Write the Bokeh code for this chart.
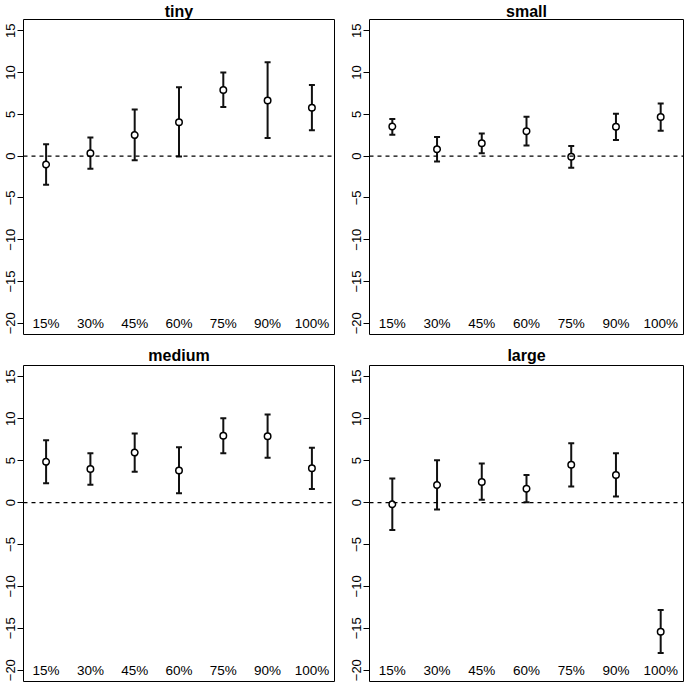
from bokeh.plotting import figure
from bokeh.models import Range1d, FixedTicker, Span, ColumnDataSource
from bokeh.layouts import column, row
from bokeh.embed import file_html
from bokeh.resources import INLINE
from bokeh.core.properties import value

levels = ["15%", "30%", "45%", "60%", "75%", "90%", "100%"]
titles = ["tiny", "small", "medium", "large"]

tiny_mean = [-1.0, 0.35, 2.52, 4.06, 7.91, 6.65, 5.79]
tiny_hi = [1.42, 2.24, 5.59, 8.23, 10.0, 11.22, 8.5]
tiny_lo = [-3.43, -1.5, -0.51, -0.04, 5.87, 2.17, 3.11]

small_mean = [3.54, 0.83, 1.54, 2.99, -0.08, 3.5, 4.69]
small_hi = [4.45, 2.28, 2.72, 4.72, 1.22, 5.08, 6.3]
small_lo = [2.56, -0.63, 0.35, 1.26, -1.38, 1.93, 3.03]

medium_mean = [4.86, 3.99, 5.96, 3.83, 7.97, 7.9, 4.1]
medium_hi = [7.42, 5.88, 8.25, 6.59, 10.07, 10.5, 6.55]
medium_lo = [2.29, 2.13, 3.67, 1.1, 5.88, 5.33, 1.62]

large_mean = [-0.2, 2.09, 2.45, 1.66, 4.5, 3.28, -15.4]
large_hi = [2.88, 5.05, 4.66, 3.28, 7.07, 5.88, -12.83]
large_lo = [-3.28, -0.83, 0.32, 0.04, 1.9, 0.71, -17.96]

y_ticks = [-20, -15, -10, -5, 0, 5, 10, 15]
label_y = -20

series = [
    (tiny_mean, tiny_hi, tiny_lo),
    (small_mean, small_hi, small_lo),
    (medium_mean, medium_hi, medium_lo),
    (large_mean, large_hi, large_lo),
]

FONT = "Liberation Sans"
# (left, right, top, bottom, title standoff)
geom = [
    (23, 8, 19, 8, 0),
    (27, 1, 19, 8, 0),
    (23, 8, 23, 3, 4),
    (27, 1, 23, 3, 4),
]
FIG_W = 342
FIG_H = 342

figs = []
for k in range(4):
    mean, hi, lo = series[k]
    l, r, t, b, so = geom[k]
    xs = list(range(1, len(levels) + 1))
    src = ColumnDataSource(dict(x=xs, m=mean, hi=hi, lo=lo, lab=levels,
                                ly=[label_y] * len(levels)))
    p = figure(width=FIG_W, height=FIG_H, output_backend="svg",
               toolbar_location=None, x_range=Range1d(0.49, 7.51),
               y_range=Range1d(-21.35, 16.35), x_axis_location=None,
               min_border_left=l, min_border_right=r, min_border_top=t,
               min_border_bottom=b, title=titles[k])
    p.title.align = "center"
    p.title.text_font = FONT
    p.title.text_font_style = "bold"
    p.title.text_font_size = "16px"
    p.title.text_color = "black"
    p.title.standoff = so
    p.xgrid.visible = False
    p.ygrid.visible = False
    p.outline_line_color = "black"
    p.outline_line_width = 1
    p.outline_line_alpha = 1
    p.background_fill_color = "white"
    p.border_fill_color = "white"
    ax = p.yaxis[0]
    ax.ticker = FixedTicker(ticks=y_ticks)
    ax.minor_tick_line_color = None
    ax.axis_line_color = None
    ax.major_tick_in = 0
    ax.major_tick_out = 6
    ax.major_tick_line_color = "black"
    ax.major_label_orientation = "vertical"
    ax.major_label_standoff = 2
    ax.major_label_text_font = FONT
    ax.major_label_text_font_size = "13px"
    ax.major_label_text_color = "black"

    p.add_layout(Span(location=0, dimension="width", line_color="black",
                      line_width=1.2, line_dash="4 4"))
    p.segment(x0="x", y0="lo", x1="x", y1="hi", source=src,
              line_color="#111111", line_width=2)
    p.scatter(x="x", y="hi", source=src, marker="dash", size=6,
              line_color="#111111", line_width=2)
    p.scatter(x="x", y="lo", source=src, marker="dash", size=6,
              line_color="#111111", line_width=2)
    p.scatter(x="x", y="m", source=src, marker="circle", size=6.5,
              fill_color="white", line_color="black", line_width=1.5)
    p.text(x="x", y="ly", text="lab", source=src, text_align="center",
           text_baseline="middle", text_font=value(FONT),
           text_font_size="13.5px", text_color="black")
    figs.append(p)

layout = column(row(figs[0], figs[1]), row(figs[2], figs[3]))
open("out.html", "w").write(file_html(layout, INLINE))
